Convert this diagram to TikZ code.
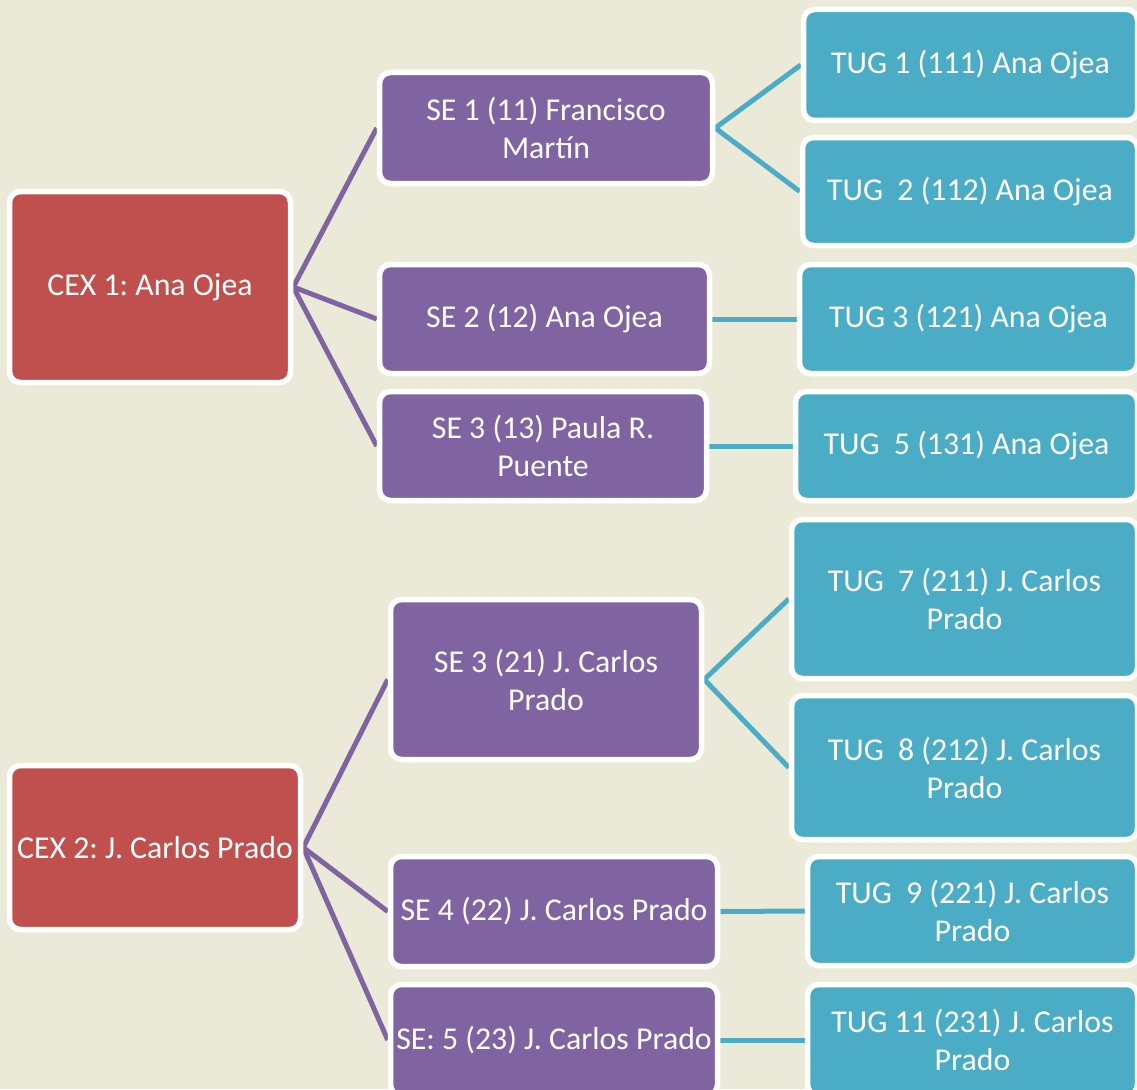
\documentclass[tikz,border=0pt]{standalone}
\usepackage{fontspec}
\setmainfont{Carlito}
\frenchspacing
\usetikzlibrary{backgrounds}
\definecolor{paper}{HTML}{EBEAD8}
\definecolor{cexred}{HTML}{C0504D}
\definecolor{sepurple}{HTML}{8064A2}
\definecolor{tugblue}{HTML}{4BACC6}

\begin{document}
\begin{tikzpicture}[x=1pt, y=-1pt,
    box/.style={draw=white, line width=5.5pt, rounded corners=11pt, text=white,
      align=center, inner sep=2pt, font=\fontsize{31.8}{38}\selectfont},
    cex/.style={box, fill=cexred},
    se/.style={box, fill=sepurple},
    tug/.style={box, fill=tugblue},
    uplink/.style={sepurple, line width=5pt},
    downlink/.style={tugblue, line width=5pt}]
                \useasboundingbox (0,0) rectangle (1137,1089);
                \clip (0,0) rectangle (1137,1089);
                % first unit
                \node[cex, minimum width=281pt, minimum height=191pt] (cex1) at (150,287) {CEX 1: Ana Ojea};
                \node[se, minimum width=333pt, minimum height=111pt] (se11) at (546,128) {SE 1 (11) Francisco\\Martín};
                \node[se, minimum width=330pt, minimum height=109pt] (se12) at (544.5,319) {SE 2 (12) Ana Ojea};
                \node[se, minimum width=327pt, minimum height=109pt] (se13) at (543,446) {SE 3 (13) Paula R.\\Puente};
                \node[tug, minimum width=334pt, minimum height=111pt] (tug111) at (970.5,65) {TUG 1 (111) Ana Ojea};
                \node[tug, minimum width=335pt, minimum height=108pt] (tug112) at (970,191.5) {TUG\ \ 2 (112) Ana Ojea};
                \node[tug, minimum width=338pt, minimum height=109pt] (tug121) at (968.5,319) {TUG 3 (121) Ana Ojea};
                \node[tug, minimum width=342pt, minimum height=109pt] (tug131) at (966.5,446) {TUG\ \ 5 (131) Ana Ojea};
                % second unit
                \node[cex, minimum width=291pt, minimum height=164pt] (cex2) at (155,847.5) {CEX 2: J. Carlos Prado};
                \node[se, minimum width=311pt, minimum height=160pt] (se21) at (546,679.5) {SE 3 (21) J. Carlos\\Prado};
                \node[se, minimum width=327pt, minimum height=110pt] (se22) at (554,911.5) {SE 4 (22) J. Carlos Prado};
                \node[se, minimum width=327pt, minimum height=111pt] (se23) at (554,1040) {SE: 5 (23) J. Carlos Prado};
                \node[tug, minimum width=346pt, minimum height=159pt] (tug211) at (964.5,599) {TUG\ \ 7 (211) J. Carlos\\Prado};
                \node[tug, minimum width=346pt, minimum height=144pt] (tug212) at (964.5,767.5) {TUG\ \ 8 (212) J. Carlos\\Prado};
                \node[tug, minimum width=330pt, minimum height=109pt] (tug221) at (972.5,911) {TUG\ \ 9 (221) J. Carlos\\Prado};
                \node[tug, minimum width=330pt, minimum height=111pt] (tug231) at (972.5,1040) {TUG 11 (231) J. Carlos\\Prado};
                \begin{scope}[on background layer]
                  \fill[paper] (0,0) rectangle (1137,1089);
                  \foreach \child in {se11, se12, se13}
                    \draw[uplink] (cex1.east) -- (\child.west);
                  \foreach \child in {se21, se22, se23}
                    \draw[uplink] (cex2.east) -- (\child.west);
                  \draw[downlink] (tug111.west) -- (se11.east) -- (tug112.west);
                  \draw[downlink] (se12.east) -- (tug121.west);
                  \draw[downlink] (se13.east) -- (tug131.west);
                  \draw[downlink] (tug211.west) -- (se21.east) -- (tug212.west);
                  \draw[downlink] (se22.east) -- (tug221.west);
                  \draw[downlink] (se23.east) -- (tug231.west);
                \end{scope}
            \end{tikzpicture}
\end{document}
